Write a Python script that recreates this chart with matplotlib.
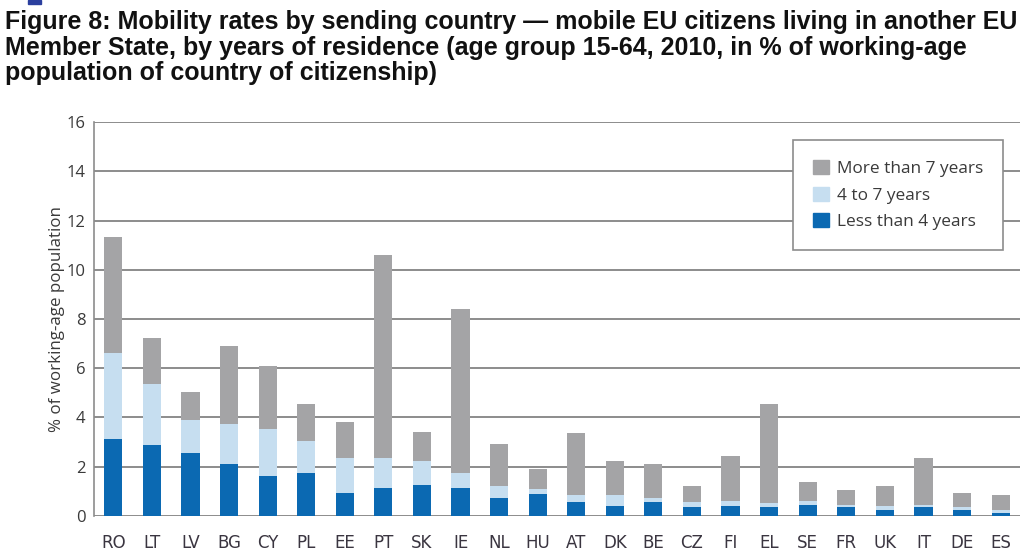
import matplotlib
matplotlib.use("Agg")
import matplotlib.pyplot as plt
from matplotlib.patches import Patch, Rectangle
import numpy as np

countries = ["RO", "LT", "LV", "BG", "CY", "PL", "EE", "PT", "SK", "IE", "NL", "HU",
             "AT", "DK", "BE", "CZ", "FI", "EL", "SE", "FR", "UK", "IT", "DE", "ES"]
less_than_4 = [3.10, 2.86, 2.55, 2.10, 1.60, 1.72, 0.91, 1.11, 1.24, 1.11, 0.73, 0.87,
               0.55, 0.41, 0.55, 0.34, 0.41, 0.34, 0.42, 0.35, 0.23, 0.34, 0.23, 0.11]
four_to_7 = [3.50, 2.50, 1.35, 1.63, 1.94, 1.32, 1.42, 1.22, 0.98, 0.63, 0.48, 0.22,
             0.29, 0.43, 0.16, 0.23, 0.20, 0.19, 0.18, 0.10, 0.16, 0.09, 0.11, 0.12]
more_than_7 = [4.73, 1.85, 1.13, 3.17, 2.55, 1.49, 1.49, 8.26, 1.18, 6.67, 1.69, 0.81,
               2.51, 1.38, 1.39, 0.65, 1.80, 4.00, 0.76, 0.58, 0.83, 1.92, 0.57, 0.61]
yticks = [0, 2, 4, 6, 8, 10, 12, 14, 16]

c_dark = "#0b69b2"
c_light = "#c6def0"
c_grey = "#a4a4a6"

fig = plt.figure(figsize=(10.24, 5.55), dpi=100)
ax = fig.add_axes([0.0918, 0.0708, 0.9042, 0.7092])

x = np.arange(len(countries))
w = 0.47
b1 = np.array(less_than_4)
b2 = b1 + np.array(four_to_7)
ax.bar(x, less_than_4, w, color=c_dark, zorder=3)
ax.bar(x, four_to_7, w, bottom=b1, color=c_light, zorder=3)
ax.bar(x, more_than_7, w, bottom=b2, color=c_grey, zorder=3)

ax.set_xlim(-0.5, 23.5)
ax.set_ylim(0, 16)
ax.set_yticks(yticks)
ax.set_xticks(x)
ax.set_xticklabels(countries, family=["Liberation Sans Narrow", "DejaVu Sans"],
                   fontsize=12, color="#3a3540")
for lbl in ax.get_yticklabels():
    lbl.set_fontfamily(["Open Sans", "DejaVu Sans"])
    lbl.set_fontsize(12)
    lbl.set_color("#3a3a3a")
ax.tick_params(axis="y", length=0, pad=6)
ax.tick_params(axis="x", length=0, pad=13)

ax.grid(axis="y", color="#8c8c8c", linewidth=1.4, zorder=0)
for s in ["top", "right", "bottom"]:
    ax.spines[s].set_visible(False)
ax.spines["left"].set_color("#8c8c8c")
ax.spines["left"].set_linewidth(1.2)

ax.set_ylabel("% of working-age population", fontsize=12.2,
              family=["Open Sans", "DejaVu Sans"], color="#3a3a3a", labelpad=1)

handles = [Patch(color=c_grey, label="More than 7 years"),
           Patch(color=c_light, label="4 to 7 years"),
           Patch(color=c_dark, label="Less than 4 years")]
leg = ax.legend(handles=handles, loc="upper right", bbox_to_anchor=(0.9816, 0.954),
                fancybox=False, framealpha=1, edgecolor="#8c8c8c",
                prop={"family": ["Open Sans", "DejaVu Sans"], "size": 12.4},
                handlelength=0.9, handleheight=0.9, handletextpad=0.47,
                labelspacing=0.55, borderpad=1.15, borderaxespad=0)
leg.get_frame().set_linewidth(1.2)
leg.set_zorder(5)
for t in leg.get_texts():
    t.set_color("#3a3a3a")

title = ("Figure 8: Mobility rates by sending country \u2014 mobile EU citizens living in another EU\n"
         "Member State, by years of residence (age group 15-64, 2010, in % of working-age\n"
         "population of country of citizenship)")
fig.text(0.005, 0.982, title, ha="left", va="top", fontsize=18, fontweight="bold",
         family=["Liberation Sans", "DejaVu Sans"], linespacing=1.08, color="#111111")

fig.patches.append(Rectangle((0.027, 0.992), 0.013, 0.008, transform=fig.transFigure,
                             color="#2b3f9e", figure=fig))

fig.savefig("out.png", dpi=100)
